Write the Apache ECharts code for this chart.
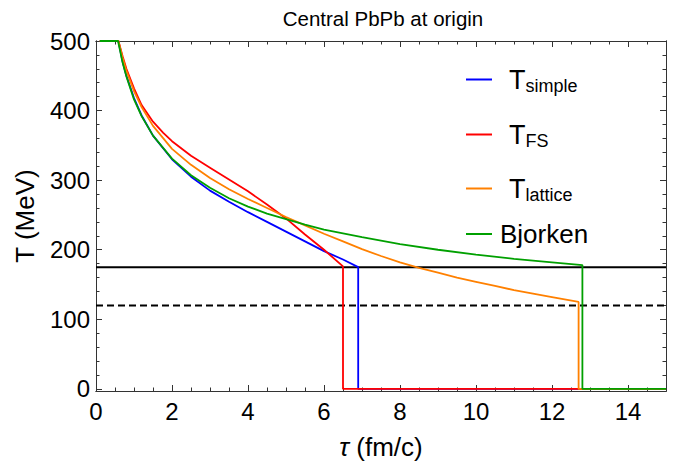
<!DOCTYPE html>
<html><head><meta charset="utf-8">
<script src="https://cdn.jsdelivr.net/npm/echarts@6/dist/echarts.min.js"></script>
<style>html,body{margin:0;padding:0;background:#fff}#c{width:689px;height:469px}</style>
</head><body><div id="c"></div>
<script>
// ---- data ----
const simpleTau = [0.1,0.59,0.7,0.8,1.0,1.2,1.5,2.0,2.5,3.0,3.5,4.0,4.5,5.0,5.5,6.0,6.5,6.9,6.9,15];
const simpleT   = [500,500,470,450,418,393,364,330,305,285,269,254,240,226,212,198,186,175,0,0];
const fsTau = [0.1,0.59,0.7,0.8,1.0,1.2,1.5,1.77,2.0,2.5,3.0,3.5,4.0,4.5,5.0,5.5,6.0,6.5,6.5,15];
const fsT   = [500,500,478,460,432,408,384,368,356,335,318,301,284,265,245,222,200,176,0,0];
const latTau = [0.1,0.59,0.7,0.8,1.0,1.2,1.5,2.0,2.5,3.0,3.5,4.0,4.5,5.0,5.5,6.0,6.5,7.0,7.5,8.0,8.5,9.0,9.5,10.0,10.5,11.0,11.5,12.0,12.7,12.7,15];
const latT   = [500,500,476,457,428,405,378,345,322,303,287,273,260,247,235,223,212,201,191,182,174,167,160,154,148,142,137,132,125,0,0];
const bjTau = [0.1,0.58,0.7,0.8,1.0,1.2,1.5,2.0,2.5,3.0,3.5,4.0,4.5,5.0,5.5,6.0,7.0,8.0,9.0,10.0,11.0,12.0,12.8,12.8,15];
const bjT   = [500,500,469,449,416,392,364,331,307,289,274,262,252,244,236,229,218,208,200,193,187,182,178,0,0];
const refLineTau = [0, 15];
const tcLine = [175, 175];
const tfLine = [120, 120];
const xTicks = [0,2,4,6,8,10,12,14];
const xMinorTicks = [0.5,1,1.5,2.5,3,3.5,4.5,5,5.5,6.5,7,7.5,8.5,9,9.5,10.5,11,11.5,12.5,13,13.5,14.5];
const yTicks = [0,100,200,300,400,500];
const yMinorTicks = [20,40,60,80,120,140,160,180,220,240,260,280,320,340,360,380,420,440,460,480];

const pairs = (xs, ys) => xs.map((x, i) => [x, ys[i]]);
const FONT = "'Liberation Sans', Arial, sans-serif";
const frameColor = '#333';

function xAx(pos, ticks, len, labels) {
  return {
    type: 'value', position: pos, min: 0, max: 15, gridIndex: 0,
    axisLine: { show: true, onZero: false, lineStyle: { color: frameColor, width: 1 } },
    axisTick: { show: true, inside: true, length: len, customValues: ticks, lineStyle: { color: frameColor } },
    axisLabel: labels ? { show: true, customValues: xTicks, fontSize: 24, color: '#000', fontFamily: FONT, margin: 8 } : { show: false },
    splitLine: { show: false }
  };
}
function yAx(pos, ticks, len, labels) {
  return {
    type: 'value', position: pos, min: -3, max: 500, gridIndex: 0,
    axisLine: { show: true, onZero: false, lineStyle: { color: frameColor, width: 1 } },
    axisTick: { show: true, inside: true, length: len, customValues: ticks, lineStyle: { color: frameColor } },
    axisLabel: labels ? { show: true, customValues: yTicks, fontSize: 24, color: '#000', fontFamily: FONT, margin: 6 } : { show: false },
    splitLine: { show: false }
  };
}

const xAxes = [
  Object.assign(xAx('bottom', xTicks, 6, true), {
    name: '{i|τ}{n| (fm/c)}', nameLocation: 'middle', nameGap: 43,
    nameTextStyle: { fontSize: 26, color: '#000', fontFamily: FONT,
      rich: { i: { fontStyle: 'italic', fontSize: 26, fontFamily: FONT, color: '#000' }, n: { fontSize: 26, fontFamily: FONT, color: '#000' } } }
  }),
  xAx('bottom', xMinorTicks, 3.5, false),
  xAx('top', xTicks, 6, false),
  xAx('top', xMinorTicks, 3.5, false)
];
const yAxes = [
  Object.assign(yAx('left', yTicks, 6, true), {
    name: 'T (MeV)', nameLocation: 'middle', nameGap: 58,
    nameTextStyle: { fontSize: 26, color: '#000', fontFamily: FONT }
  }),
  yAx('left', yMinorTicks, 3.5, false),
  yAx('right', yTicks, 6, false),
  yAx('right', yMinorTicks, 3.5, false)
];

function curve(name, xs, ys, color) {
  return { name, type: 'line', data: pairs(xs, ys), showSymbol: false, symbol: 'none',
    lineStyle: { color, width: 1.8 }, itemStyle: { color }, z: 5, animation: false };
}
function refLine(ys, dashed) {
  return { type: 'line', data: pairs(refLineTau, ys), showSymbol: false, symbol: 'none', silent: true,
    lineStyle: { color: '#000', width: 2, type: dashed ? [7, 4] : 'solid' }, z: 4, animation: false };
}

const legendRich = {
  t: { fontSize: 27, fontFamily: FONT, color: '#000', padding: [0, 0, 0, 12] },
  s: { fontSize: 18, fontFamily: FONT, color: '#000', padding: [12, 0, 0, 0] },
  b: { fontSize: 26, fontFamily: FONT, color: '#000', padding: [0, 0, 0, 3] }
};
const legendLabels = { 'T_simple': '{t|T}{s|simple}', 'T_FS': '{t|T}{s|FS}', 'T_lattice': '{t|T}{s|lattice}', 'Bjorken': '{b|Bjorken}' };
function leg(name, top) {
  return { data: [name], left: 466, top, padding: 0, itemWidth: 26, itemHeight: 2, icon: 'rect',
    formatter: n => legendLabels[n], textStyle: { rich: legendRich }, selectedMode: false };
}

const chart = echarts.init(document.getElementById('c'), null, { renderer: 'svg' });
chart.setOption({
  animation: false,
  backgroundColor: '#fff',
  grid: { left: 96, top: 41, width: 570, height: 350, containLabel: false },
  graphic: [{ type: 'text', x: 383, y: 18, style: { text: 'Central PbPb at origin', fontSize: 20.5, fontFamily: FONT, fill: '#000', align: 'center', verticalAlign: 'middle', textAlign: 'center', textVerticalAlign: 'middle' } }],
  legend: [leg('T_simple', 66), leg('T_FS', 121), leg('T_lattice', 175), leg('Bjorken', 221)],
  xAxis: xAxes,
  yAxis: yAxes,
  series: [
    refLine(tcLine, false),
    refLine(tfLine, true),
    curve('T_simple', simpleTau, simpleT, '#0000ff'),
    curve('T_FS', fsTau, fsT, '#ff0000'),
    curve('T_lattice', latTau, latT, '#ff8000'),
    curve('Bjorken', bjTau, bjT, '#00a000')
  ]
});
</script></body></html>
